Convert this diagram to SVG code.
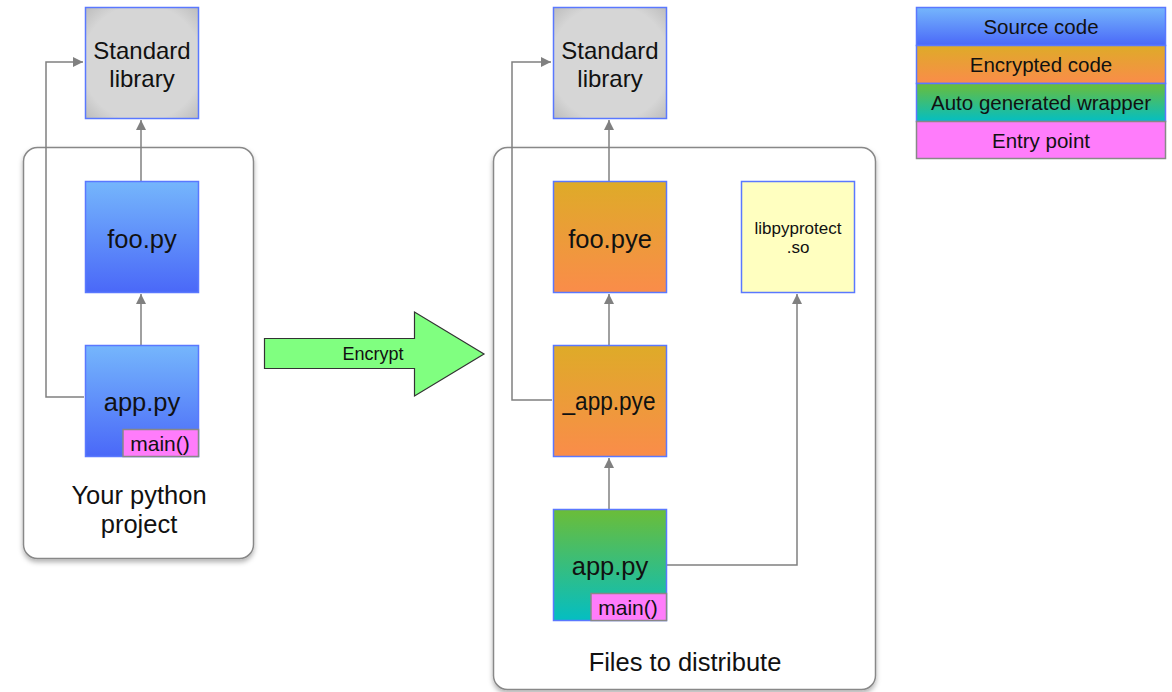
<svg xmlns="http://www.w3.org/2000/svg" width="1172" height="692" viewBox="0 0 1172 692">
<defs>
<linearGradient id="gBlue" x1="0" y1="0" x2="0" y2="1"><stop offset="0" stop-color="#75b6fc"/><stop offset="1" stop-color="#4a68f8"/></linearGradient>
<linearGradient id="gOrange" x1="0" y1="0" x2="0" y2="1"><stop offset="0" stop-color="#deab28"/><stop offset="1" stop-color="#fa8c4a"/></linearGradient>
<linearGradient id="gGreen" x1="0" y1="0" x2="0" y2="1"><stop offset="0" stop-color="#6bbd38"/><stop offset="1" stop-color="#04bec2"/></linearGradient>
<radialGradient id="gGray" cx="0.5" cy="0.5" r="0.7"><stop offset="0.75" stop-color="#d6d6d6"/><stop offset="1" stop-color="#bdbdbd"/></radialGradient>
<filter id="shadow" x="-10%" y="-10%" width="120%" height="120%"><feDropShadow dx="0" dy="3" stdDeviation="2.5" flood-color="#000" flood-opacity="0.3"/></filter>
<marker id="arr" viewBox="0 0 10 10" refX="10" refY="5" markerWidth="10" markerHeight="10" markerUnits="userSpaceOnUse" orient="auto"><path d="M0,0 L10,5 L0,10 z" fill="#808080"/></marker>
</defs>
<style>
text{font-family:"Liberation Sans",Arial,sans-serif;fill:#111;text-anchor:middle}
.box{stroke:#5a78ff;stroke-width:1.5}
.cont{fill:#fff;stroke:#888;stroke-width:1.5}
.conn{fill:none;stroke:#808080;stroke-width:1.5}
.big{font-size:25.5px}
.std{font-size:24px}
.mainbox{fill:#ff7cfb;stroke:#888;stroke-width:1.5}
.main{font-size:21px}
.lbl{font-size:20.5px}
.small{font-size:18px}
</style>
<rect width="1172" height="692" fill="#fff"/>
<g id="container-left"><rect class="cont" x="23.5" y="147.5" width="230" height="411" rx="14" filter="url(#shadow)"/><text class="big" x="139" y="504">Your python</text><text class="big" x="139" y="533">project</text></g>
<g id="container-right"><rect class="cont" x="493.5" y="147.5" width="382" height="542" rx="14" filter="url(#shadow)"/><text class="big" x="685" y="671">Files to distribute</text></g>
<g id="connectors">
<path class="conn" d="M141,181 V120" marker-end="url(#arr)"/>
<path class="conn" d="M141,345 V294" marker-end="url(#arr)"/>
<path class="conn" d="M84,397 H46 V62 H83" marker-end="url(#arr)"/>
<path class="conn" d="M609,181 V120" marker-end="url(#arr)"/>
<path class="conn" d="M609,345 V294" marker-end="url(#arr)"/>
<path class="conn" d="M552,400 H512 V62 H551" marker-end="url(#arr)"/>
<path class="conn" d="M609,509 V458" marker-end="url(#arr)"/>
<path class="conn" d="M667,565 H797 V294" marker-end="url(#arr)"/>
</g>
<g id="stdlib-left"><rect class="box" x="85.5" y="7.5" width="113" height="111" fill="url(#gGray)"/><text class="std" x="142" y="59">Standard</text><text class="std" x="142" y="87">library</text></g>
<g id="foo-py"><rect class="box" x="85.5" y="181.5" width="113" height="111" fill="url(#gBlue)"/><text class="big" x="142" y="248">foo.py</text></g>
<g id="app-py-left"><rect class="box" x="85.5" y="345.5" width="113" height="111" fill="url(#gBlue)"/><text class="big" x="142" y="411">app.py</text><rect class="mainbox" x="123" y="429.5" width="75.5" height="27"/><text class="main" x="160" y="451">main()</text></g>
<g id="encrypt"><path d="M264.5,338.5 H414.5 V312 L484,354 L414.5,396 V368.5 H264.5 Z" fill="#80ff80" stroke="#333" stroke-width="1.2"/><text class="small" x="373" y="360">Encrypt</text></g>
<g id="stdlib-right"><rect class="box" x="553.5" y="7.5" width="113" height="111" fill="url(#gGray)"/><text class="std" x="610" y="59">Standard</text><text class="std" x="610" y="87">library</text></g>
<g id="foo-pye"><rect class="box" x="553.5" y="181.5" width="113" height="111" fill="url(#gOrange)"/><text class="big" x="610" y="248">foo.pye</text></g>
<g id="libpyprotect"><rect class="box" x="741.5" y="181.5" width="113" height="111" fill="#ffffc0"/><text x="798" y="234" style="font-size:17px">libpyprotect</text><text x="798" y="253" style="font-size:17px">.so</text></g>
<g id="app-pye"><rect class="box" x="553.5" y="345.5" width="113" height="111" fill="url(#gOrange)"/><text class="big" x="609" y="410" textLength="93" lengthAdjust="spacingAndGlyphs">_app.pye</text></g>
<g id="app-py-right"><rect class="box" x="553.5" y="509.5" width="113" height="111" fill="url(#gGreen)"/><text class="big" x="610" y="575">app.py</text><rect class="mainbox" x="591" y="593.5" width="75.5" height="27"/><text class="main" x="628" y="615">main()</text></g>
<g id="legend">
<rect class="box" x="916.5" y="7.5" width="249" height="38" fill="url(#gBlue)"/><text class="lbl" x="1041" y="34">Source code</text>
<rect class="box" x="916.5" y="45.5" width="249" height="38" fill="url(#gOrange)"/><text class="lbl" x="1041" y="72">Encrypted code</text>
<rect class="box" x="916.5" y="83.5" width="249" height="38" fill="url(#gGreen)"/><text class="lbl" x="1041" y="110">Auto generated wrapper</text>
<rect x="916.5" y="121.5" width="249" height="37" fill="#ff7cfb" stroke="#888" stroke-width="1.5"/><text class="lbl" x="1041" y="148">Entry point</text>
</g>
</svg>
